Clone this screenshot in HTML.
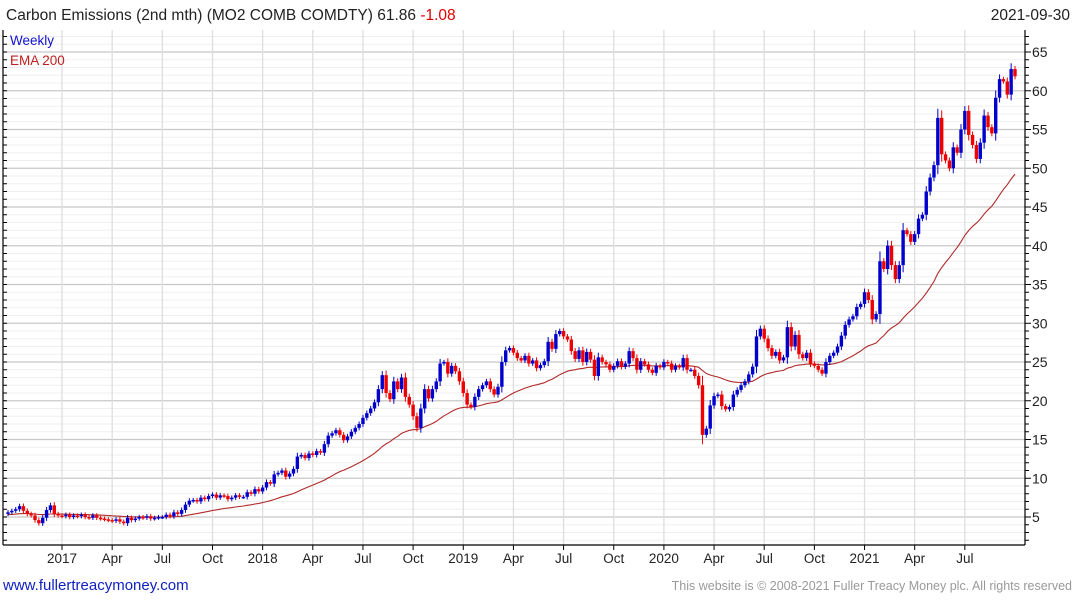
<!DOCTYPE html>
<html><head><meta charset="utf-8"><style>
body{margin:0;background:#fff;width:1075px;height:600px;overflow:hidden;font-family:"Liberation Sans",sans-serif}
svg{display:block}
</style></head><body>
<svg id="chart" width="1075" height="600" xmlns="http://www.w3.org/2000/svg">
<text x="6" y="20" font-size="15.5" fill="#222">Carbon Emissions (2nd mth) (MO2 COMB COMDTY) 61.86 <tspan fill="#e00000">-1.08</tspan></text>
<text x="1070" y="20" font-size="15.5" fill="#222" text-anchor="end">2021-09-30</text>
<g id="grid"></g>
<g id="ema"></g>
<g id="candles"></g>
<g id="axes"></g>
<text x="10" y="45" font-size="13.5" fill="#1010d0">Weekly</text>
<text x="10" y="65" font-size="13.5" fill="#c02020">EMA 200</text>
<text x="3" y="590" font-size="15" fill="#1020c0">www.fullertreacymoney.com</text>
<text x="1072" y="590" font-size="12.5" fill="#999" text-anchor="end">This website is © 2008-2021 Fuller Treacy Money plc. All rights reserved</text>
</svg>
<script>
// weekly closes, Sep 2016 .. Sep 2021
const closes = [
5.6,5.8,6.0,6.4,5.8,5.4,5.2,4.6,4.2,4.9,5.9,6.5,5.4,5.2,
5.1,5.3,5.0,5.2,5.1,5.3,5.0,4.9,5.2,4.9,4.8,4.7,4.6,
4.5,4.7,4.4,4.2,4.9,4.6,4.8,5.0,4.9,5.1,4.8,4.9,5.0,
5.0,5.3,5.1,5.6,5.4,5.9,6.6,7.1,7.2,7.0,7.5,7.3,7.7,
7.9,7.5,7.8,7.7,7.3,7.5,7.8,7.6,7.6,8.2,8.0,8.6,8.3,
8.8,9.5,9.3,10.5,10.7,11.0,10.2,10.6,11.2,12.8,13.0,12.6,13.2,
13.0,13.5,13.3,14.4,15.5,15.8,16.2,15.6,14.9,15.4,16.0,16.5,17.0,
17.8,18.4,19.0,19.8,21.5,23.3,21.0,20.2,22.5,21.5,23.0,20.5,19.5,
18.0,16.5,19.0,21.5,20.3,21.5,22.5,24.8,25.0,23.5,24.5,23.8,22.5,
21.0,19.5,19.2,20.5,21.5,22.0,22.5,21.5,20.8,21.8,25.0,26.5,26.8,
26.2,25.5,25.2,25.8,24.8,25.2,24.2,24.6,25.1,27.6,26.7,28.6,29.0,
28.3,27.9,26.4,25.4,26.5,25.0,26.3,25.3,23.2,25.6,25.0,24.7,24.0,
24.5,25.1,24.4,24.8,26.4,25.5,24.0,25.1,24.7,24.0,23.6,24.5,24.3,
25.0,24.8,24.0,24.5,24.3,25.5,24.0,24.0,23.2,22.0,15.6,16.4,19.4,
20.6,20.8,19.3,18.9,19.2,20.8,21.4,22.0,22.5,23.4,24.4,28.3,29.3,
28.0,26.8,25.8,26.3,25.2,25.6,29.5,27.0,28.5,26.0,25.5,26.2,24.8,
24.5,24.0,23.5,25.0,25.8,26.2,27.0,28.4,29.8,30.5,30.9,32.1,32.5,
34.0,33.0,30.5,31.2,38.0,37.0,40.0,37.5,35.7,37.5,42.0,41.5,40.5,
41.5,43.5,44.0,47.0,48.8,50.4,56.5,51.8,51.0,50.0,52.7,52.0,55.0,
57.4,54.3,53.0,51.2,53.3,56.8,55.3,54.5,59.1,61.5,61.2,59.5,62.8,61.86
];
const firstOpen = 5.4;
const emaSeed = 5.3;
const yTicks = [5,10,15,20,25,30,35,40,45,50,55,60,65];
const xLabels = ["2017","Apr","Jul","Oct","2018","Apr","Jul","Oct","2019","Apr","Jul","Oct","2020","Apr","Jul","Oct","2021","Apr","Jul"];
const xLabelWeeks = [14,27,40,53,66,79,92,105,118,131,144,157,170,183,196,209,222,235,248];

const NS="http://www.w3.org/2000/svg";
const L=3,R=1025,T=30,B=545;
function y(v){return 517-(v-5)*7.75;}
function x(i){return 8+(i)*(1015-8)/(closes.length-1);}
function mk(tag,attrs,parent){const e=document.createElementNS(NS,tag);for(const k in attrs)e.setAttribute(k,attrs[k]);parent.appendChild(e);return e;}
const grid=document.getElementById('grid'),axes=document.getElementById('axes');
for(let v=2;v<=67;v++){
  const g=mk('line',{x1:L,x2:R,y1:y(v),y2:y(v),stroke:v%5===0?'#c8c8c8':'#efefef','stroke-width':v%5===0?1.3:1},grid);
  
  
  const t=mk('line',{x1:R,x2:R+(v%5===0?6:4),y1:y(v),y2:y(v),stroke:'#000'},axes);
  
  
  const t2=mk('line',{x1:L,x2:L+4,y1:y(v),y2:y(v),stroke:'#000'},axes);
  
  
}
yTicks.forEach(v=>{
  const t=mk('text',{x:1032,y:y(v)+5,'font-size':14,fill:'#222'},axes);
  t.textContent=v;
  
  
});
xLabels.forEach((s,k)=>{
  const xx=x(xLabelWeeks[k]);
  const g=mk('line',{x1:xx,x2:xx,y1:T,y2:B,stroke:'#dedede','stroke-width':1.3},grid);
  
  
  const tk=mk('line',{x1:xx,x2:xx,y1:B,y2:B+5,stroke:'#000'},axes);
  
  
  const t=mk('text',{x:xx,y:563,'font-size':13.5,fill:'#222','text-anchor':'middle'},axes);
  t.textContent=s;
  
  
});
const ax1=mk('line',{x1:R,x2:R,y1:T,y2:B,stroke:'#000','stroke-width':1.2},axes);


const ax2=mk('line',{x1:L,x2:L,y1:T,y2:B,stroke:'#000','stroke-width':1.2},axes);


const ax3=mk('line',{x1:L,x2:R,y1:B,y2:B,stroke:'#000','stroke-width':1.2},axes);


let e=emaSeed,pts=[];const a=2/41;
closes.forEach((c,i)=>{e=e+a*(c-e);pts.push(x(i).toFixed(1)+','+y(e).toFixed(1));});
const pl=mk('polyline',{points:pts.join(' '),fill:'none',stroke:'#b02a2a','stroke-width':1.1},document.getElementById('ema'));


const cg=document.getElementById('candles');
closes.forEach((c,i)=>{
  const o=i===0?firstOpen:closes[i-1];
  const up=c>=o,col=up?'#0000cc':'#ee0000';
  const ext=0.25+Math.abs(c-o)*0.15;
  const hi=Math.max(o,c)+ext,lo=Math.min(o,c)-ext,xx=x(i);
  const w=mk('line',{x1:xx,x2:xx,y1:y(hi),y2:y(lo),stroke:col,'stroke-width':1},cg);
  
  
  const top=y(Math.max(o,c)),h=Math.max(1.5,Math.abs(y(o)-y(c)));
  const r=mk('rect',{x:xx-1.7,y:top,width:3.4,height:h,fill:col},cg);
  
  
});
</script>
</body></html>
